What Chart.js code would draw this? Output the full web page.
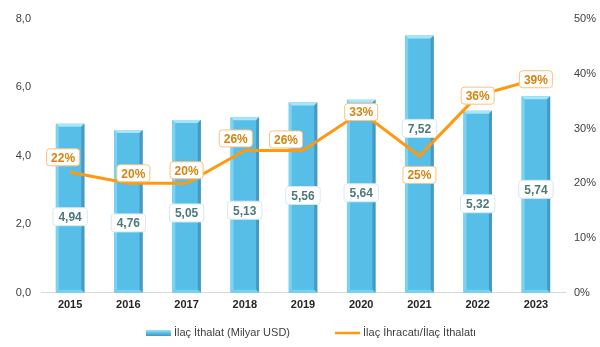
<!DOCTYPE html>
<html>
<head>
<meta charset="utf-8">
<script src="https://cdn.jsdelivr.net/npm/chart.js@4.4.1/dist/chart.umd.min.js"></script>
<style>
  html, body { margin: 0; padding: 0; background: #fff; }
  #wrap { width: 600px; height: 347px; position: relative; }
</style>
</head>
<body>
<div id="wrap"><canvas id="ilacChart"></canvas></div>
<script>
// yıllar ve seriler
const years = ['2015', '2016', '2017', '2018', '2019', '2020', '2021', '2022', '2023'];
const importValues = [4.94, 4.76, 5.05, 5.13, 5.56, 5.64, 7.52, 5.32, 5.74];   // Milyar USD
const ratioValues = [22, 20, 20, 26, 26, 33, 25, 36, 39];                    // %
const leftTicks = [0, 2, 4, 6, 8];
const rightTicks = [0, 10, 20, 30, 40, 50];

const legendNames = ['İlaç İthalat (Milyar USD)', 'İlaç İhracatı/İlaç İthalatı'];

const FONT = '"Liberation Sans", Arial, sans-serif';
const BAR_BLUE = '#57bee8';
const LINE_ORANGE = '#ff990f';

const fmtComma = (n, d) => n.toFixed(d).replace('.', ',');

function barGradient(ctx) {
  const el = ctx.element;
  if (!el || el.x === undefined) return BAR_BLUE;
  const w = el.width || 28;
  const g = ctx.chart.ctx.createLinearGradient(el.x - w / 2, 0, el.x + w / 2, 0);
  g.addColorStop(0, '#7fd2f2');
  g.addColorStop(0.12, '#5cc2ec');
  g.addColorStop(0.78, '#56bde7');
  g.addColorStop(0.88, '#4ba9d5');
  g.addColorStop(1, '#55b3de');
  return g;
}

function roundBox(c, x, y, w, h, r) {
  c.beginPath();
  c.moveTo(x + r, y);
  c.arcTo(x + w, y, x + w, y + h, r);
  c.arcTo(x + w, y + h, x, y + h, r);
  c.arcTo(x, y + h, x, y, r);
  c.arcTo(x, y, x + w, y, r);
  c.closePath();
}

// kabartma efekti: üst, sağ ve alt kenarlar
const bevelPlugin = {
  id: 'bevel',
  afterDatasetDraw(chart, args) {
    if (args.meta.type !== 'bar') return;
    const c = chart.ctx;
    c.save();
    args.meta.data.forEach(bar => {
      const w = bar.width, l = bar.x - w / 2, r = bar.x + w / 2;
      const t = bar.y, b = bar.base, s = 3;
      // üst kapak
      c.fillStyle = '#a6e6f8';
      c.beginPath();
      c.moveTo(l, t); c.lineTo(r, t); c.lineTo(r - s, t + s); c.lineTo(l + s, t + s);
      c.closePath(); c.fill();
      // sağ kenar
      c.fillStyle = '#4699c3';
      c.beginPath();
      c.moveTo(r, t); c.lineTo(r, b); c.lineTo(r - s, b - s); c.lineTo(r - s, t + s);
      c.closePath(); c.fill();
      // sol kenar
      c.fillStyle = '#7ed2f1';
      c.beginPath();
      c.moveTo(l, t); c.lineTo(l + s, t + s); c.lineTo(l + s, b - s); c.lineTo(l, b);
      c.closePath(); c.fill();
      // alt kenar
      c.fillStyle = '#74d1f2';
      c.beginPath();
      c.moveTo(l, b); c.lineTo(l + s, b - s); c.lineTo(r - s, b - s); c.lineTo(r, b);
      c.closePath(); c.fill();
    });
    c.restore();
  }
};

// değer kutuları
const boxLabelPlugin = {
  id: 'boxLabels',
  afterDraw(chart, args, opts) {
    const c = chart.ctx;
    c.save();
    c.font = 'bold 12px ' + FONT;
    c.textAlign = 'center';
    c.textBaseline = 'middle';

    const barMeta = chart.getDatasetMeta(1);
    barMeta.data.forEach((bar, i) => {
      const txt = fmtComma(chart.data.datasets[1].data[i], 2);
      const cx = bar.x, cy = bar.y + opts.barDrop;
      const w = c.measureText(txt).width + 11, h = 18;
      roundBox(c, cx - w / 2, cy - h / 2, w, h, 3);
      c.fillStyle = '#ffffff'; c.fill();
      c.lineWidth = 1; c.strokeStyle = '#d3e9f6'; c.stroke();
      c.fillStyle = '#4d797c';
      c.fillText(txt, cx, cy + 1);
    });

    const lineMeta = chart.getDatasetMeta(0);
    lineMeta.data.forEach((pt, i) => {
      const txt = chart.data.datasets[0].data[i] + '%';
      const sh = opts.ratioShift[i];
      const cx = pt.x + sh[0], cy = pt.y + sh[1];
      const w = c.measureText(txt).width + 9, h = 17;
      roundBox(c, cx - w / 2, cy - h / 2, w, h, 3);
      c.fillStyle = '#ffffff'; c.fill();
      c.lineWidth = 1; c.strokeStyle = '#fbc27c'; c.stroke();
      c.fillStyle = '#d6840f';
      c.fillText(txt, cx, cy + 1);
    });
    c.restore();
  }
};

// alt lejant
const legendPlugin = {
  id: 'bottomLegend',
  afterDraw(chart, args, opts) {
    const c = chart.ctx;
    c.save();
    c.font = '11px ' + FONT;
    c.textBaseline = 'middle';
    const sw = 25, gapTxt = 3, gapItem = 45;
    const widths = legendNames.map(n => c.measureText(n).width);
    const total = widths.reduce((a, w) => a + sw + gapTxt + w, 0) + gapItem;
    let x = opts.centerX - total / 2;
    const y = opts.y;

    // çubuk simgesi
    const g = c.createLinearGradient(0, y - 3, 0, y + 3);
    g.addColorStop(0, '#9fe2f8');
    g.addColorStop(0.5, '#57bee8');
    g.addColorStop(1, '#3f93bd');
    c.fillStyle = g;
    c.fillRect(x, y - 3, sw, 6);
    c.fillStyle = '#404040';
    c.fillText(legendNames[0], x + sw + gapTxt, y);
    x += sw + gapTxt + widths[0] + gapItem;

    // çizgi simgesi
    c.strokeStyle = LINE_ORANGE;
    c.lineWidth = 2.5;
    c.beginPath(); c.moveTo(x, y); c.lineTo(x + sw, y); c.stroke();
    c.fillStyle = '#404040';
    c.fillText(legendNames[1], x + sw + gapTxt, y);
    c.restore();
  }
};

new Chart(document.getElementById('ilacChart'), {
  data: {
    labels: years,
    datasets: [
      {
        type: 'line',
        label: legendNames[1],
        data: ratioValues,
        yAxisID: 'yRight',
        borderColor: LINE_ORANGE,
        borderWidth: 3,
        pointRadius: 0,
        tension: 0,
        order: 0
      },
      {
        type: 'bar',
        label: legendNames[0],
        data: importValues,
        yAxisID: 'yLeft',
        backgroundColor: barGradient,
        borderWidth: 0,
        categoryPercentage: 1,
        barPercentage: 0.49,
        order: 1
      }
    ]
  },
  options: {
    responsive: true,
    maintainAspectRatio: false,
    animation: false,
    layout: { padding: { top: 19, right: 0, bottom: 29, left: 0 } },
    plugins: {
      legend: { display: false },
      tooltip: { enabled: false },
      boxLabels: {
        barDrop: 93,
        ratioShift: [[-7, -15], [5, -10], [0, -13], [-9, -12], [-17, -11], [0, 0], [0, 19], [0, 0], [0, 0]]
      },
      bottomLegend: { centerX: 311, y: 333 }
    },
    scales: {
      x: {
        grid: { display: false, drawTicks: false },
        border: { display: true, color: '#d9d9d9', width: 1 },
        ticks: { color: '#262626', padding: 6, font: { family: FONT, size: 11, weight: 'bold' } }
      },
      yLeft: {
        position: 'left',
        min: 0, max: 8,
        afterBuildTicks: s => { s.ticks = leftTicks.map(v => ({ value: v })); },
        afterFit: s => { s.width = 41; },
        grid: { display: false, drawTicks: false },
        border: { display: false },
        ticks: { color: '#404040', padding: 10, font: { family: FONT, size: 11 }, callback: v => fmtComma(v, 1) }
      },
      yRight: {
        position: 'right',
        min: 0, max: 50,
        afterBuildTicks: s => { s.ticks = rightTicks.map(v => ({ value: v })); },
        afterFit: s => { s.width = 35; },
        grid: { display: false, drawTicks: false },
        border: { display: false },
        ticks: { color: '#404040', padding: 9, font: { family: FONT, size: 11 }, callback: v => v + '%' }
      }
    }
  },
  plugins: [bevelPlugin, boxLabelPlugin, legendPlugin]
});
</script>
</body>
</html>
